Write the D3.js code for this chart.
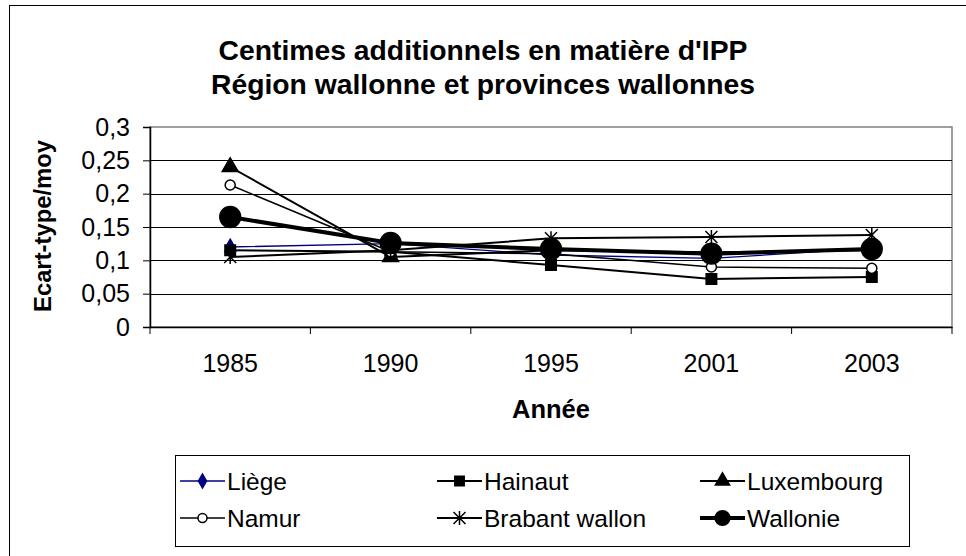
<!DOCTYPE html>
<html><head><meta charset="utf-8">
<script src="https://cdn.jsdelivr.net/npm/d3@7"></script>
<style>
body{margin:0;background:#fff;}
text{font-family:"Liberation Sans",Arial,sans-serif;fill:#000;}
</style></head>
<body><svg id="c" width="966" height="556"></svg>
<script>
const years = ["1985","1990","1995","2001","2003"];
const seriesNames = ["Liège","Hainaut","Luxembourg","Namur","Brabant wallon","Wallonie"];
const liege = [0.120,0.125,0.108,0.103,0.118];
const hainaut = [0.115,0.113,0.093,0.072,0.075];
const luxembourg = [0.240,0.105,0.115,0.112,0.115];
const namur = [0.213,0.113,0.110,0.090,0.088];
const brabant = [0.105,0.115,0.133,0.135,0.138];
const wallonie = [0.165,0.126,0.117,0.110,0.117];
const yTicks = [0,0.05,0.1,0.15,0.2,0.25,0.3];
const titleLines = ["Centimes additionnels en matière d'IPP","Région wallonne et provinces wallonnes"];
const yTitle = "Ecart-type/moy";
const xTitle = "Année";

const values = [liege,hainaut,luxembourg,namur,brabant,wallonie];
const styles = [
  {color:"#000080", width:1.3, marker:"diamond", size:70, fill:"#000080"},
  {color:"#000", width:2, marker:"square", size:110, fill:"#000"},
  {color:"#000", width:2, marker:"triangle", size:110, fill:"#000"},
  {color:"#000", width:1.5, marker:"circle", size:80, fill:"#fff"},
  {color:"#000", width:2, marker:"star", size:10, fill:"none"},
  {color:"#000", width:4, marker:"circle", size:340, fill:"#000"}
];

const svg = d3.select("#c");
svg.append("rect").attr("x",9.5).attr("y",5.5).attr("width",960).attr("height",560)
  .attr("fill","#fff").attr("stroke","#000").attr("stroke-width",1);

const L=150,R=952,T=127,B=327;
const x = d3.scaleBand().domain(years).range([L,R]);
const y = d3.scaleLinear().domain([0,0.3]).range([B,T]);

svg.append("rect").attr("x",L).attr("y",T).attr("width",R-L).attr("height",B-T)
  .attr("fill","#fff").attr("stroke","#808080").attr("stroke-width",1.5);

svg.append("g").selectAll("line").data(yTicks.filter(d=>d>0&&d<0.3)).join("line")
  .attr("x1",L).attr("x2",R).attr("y1",d=>Math.round(y(d))+0.5).attr("y2",d=>Math.round(y(d))+0.5)
  .attr("stroke","#000").attr("stroke-width",1);

const fmt = d=>String(d).replace(".",",");
const ya = svg.append("g").attr("transform",`translate(${L},0)`)
  .call(d3.axisLeft(y).tickValues(yTicks).tickFormat(fmt).tickSize(7).tickPadding(13));
ya.select(".domain").attr("stroke","#000").attr("stroke-width",1.5);
ya.selectAll(".tick line").attr("stroke","#000");
ya.selectAll("text").attr("font-size",25).attr("font-family","Liberation Sans, Arial, sans-serif").attr("fill","#000");

const xa = svg.append("g").attr("transform",`translate(0,${B})`)
  .call(d3.axisBottom(x).tickSize(0).tickPadding(27));
xa.select(".domain").attr("stroke","#000").attr("stroke-width",1.5);
xa.selectAll("text").attr("font-size",25).attr("font-family","Liberation Sans, Arial, sans-serif").attr("fill","#000");
const bounds = years.map(d=>x(d)).concat([x(years[years.length-1])+x.bandwidth()]);
svg.append("g").selectAll("line").data(bounds).join("line")
  .attr("x1",d=>d).attr("x2",d=>d).attr("y1",B).attr("y2",B+7).attr("stroke","#000");

function ctext(px,py,size,txt){
  return svg.append("text").attr("x",px).attr("y",py).attr("text-anchor","middle")
    .attr("font-size",size).attr("font-weight","bold").text(txt);
}
ctext(483,60,28.3,titleLines[0]);
ctext(483,94,28.3,titleLines[1]);
ctext((L+R)/2,418,25.5,xTitle);
svg.append("text").attr("transform",`translate(51,${(T+B)/2-1}) rotate(-90)`).attr("text-anchor","middle")
  .attr("font-size",23.8).attr("font-weight","bold").text(yTitle);

const cx = d=>x(d)+x.bandwidth()/2;
function drawMarker(g, st, px, py){
  if(st.marker==="star"){
    const s=6;
    g.append("path").attr("d",`M${px-s},${py-s}L${px+s},${py+s}M${px-s},${py+s}L${px+s},${py-s}M${px},${py-s-1}L${px},${py+s+1}`)
      .attr("stroke","#000").attr("stroke-width",1.5).attr("fill","none");
    return;
  }
  const typ = {diamond:d3.symbolDiamond,square:d3.symbolSquare,triangle:d3.symbolTriangle,circle:d3.symbolCircle}[st.marker];
  g.append("path").attr("d",d3.symbol(typ,st.size)()).attr("transform",`translate(${px},${py})`)
    .attr("fill",st.fill).attr("stroke",st.marker==="circle"&&st.fill==="#fff"?"#000":st.fill).attr("stroke-width",1.5);
}
const line = d3.line().x((d,i)=>cx(years[i])).y(d=>y(d));
const gl = svg.append("g"), gm = svg.append("g");
values.forEach((vals,k)=>{
  const st=styles[k];
  gl.append("path").attr("d",line(vals)).attr("fill","none").attr("stroke",st.color).attr("stroke-width",st.width);
  vals.forEach((v,i)=>drawMarker(gm,st,cx(years[i]),y(v)));
});

const lg = svg.append("g");
lg.append("rect").attr("x",175.5).attr("y",455.5).attr("width",734).attr("height",91)
  .attr("fill","#fff").attr("stroke","#000").attr("stroke-width",1);
const colX=[180,437,700], rowY=[481,518];
seriesNames.forEach((n,k)=>{
  const st=styles[k];
  const x0=colX[k%3], yy=rowY[Math.floor(k/3)];
  const g=lg.append("g");
  g.append("line").attr("x1",x0).attr("x2",x0+45).attr("y1",yy).attr("y2",yy)
    .attr("stroke",st.color).attr("stroke-width",st.width);
  const st2 = Object.assign({},st,{size: k===5?170:st.size*0.8});
  drawMarker(g,st2,x0+22.5,yy);
  g.append("text").attr("x",x0+47).attr("y",yy+9).attr("font-size",24.5).text(n);
});
</script></body></html>
